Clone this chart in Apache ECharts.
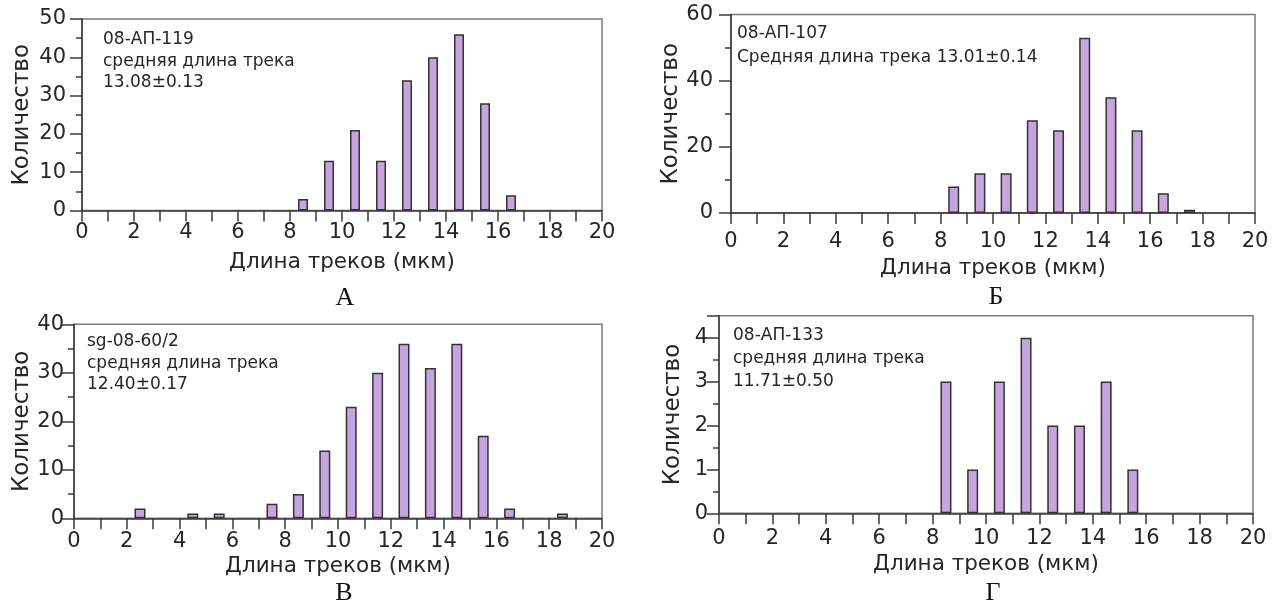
<!DOCTYPE html>
<html><head><meta charset="utf-8">
<script src="https://cdn.jsdelivr.net/npm/echarts@6/dist/echarts.min.js"></script>
<style>html,body{margin:0;padding:0;background:#fff}#c{width:1285px;height:609px}</style>
</head><body><div id="c"></div>
<script>
// ---- data ----
const xAxisName = 'Длина треков (мкм)';
const yAxisName = 'Количество';
const panelLetters = ['А', 'Б', 'В', 'Г'];

const samplesA = ['08-АП-119', 'средняя длина трека', '13.08±0.13'];
const binsA = [8.5, 9.5, 10.5, 11.5, 12.5, 13.5, 14.5, 15.5, 16.5];
const countsA = [3, 13, 21, 13, 34, 40, 46, 28, 4];

const samplesB = ['08-АП-107', 'Средняя длина трека 13.01±0.14'];
const binsB = [8.5, 9.5, 10.5, 11.5, 12.5, 13.5, 14.5, 15.5, 16.5, 17.5];
const countsB = [8, 12, 12, 28, 25, 53, 35, 25, 6, 1];

const samplesV = ['sg-08-60/2', 'средняя длина трека', '12.40±0.17'];
const binsV = [2.5, 4.5, 5.5, 7.5, 8.5, 9.5, 10.5, 11.5, 12.5, 13.5, 14.5, 15.5, 16.5, 18.5];
const countsV = [2, 1, 1, 3, 5, 14, 23, 30, 36, 31, 36, 17, 2, 1];

const samplesG = ['08-АП-133', 'средняя длина трека', '11.71±0.50'];
const binsG = [8.5, 9.5, 10.5, 11.5, 12.5, 13.5, 14.5, 15.5];
const countsG = [3, 1, 3, 4, 2, 2, 3, 1];

const yMax = [50, 60, 40, 4.5];
const yStep = [10, 20, 10, 1];

// ---- layout ----
const FONT = 'DejaVu Sans';
const TXT = '#262626';
const grids = [
  {left: 82, top: 19, width: 520, height: 191.5},
  {left: 731, top: 14.5, width: 524, height: 198.5},
  {left: 74, top: 324.3, width: 528, height: 194},
  {left: 719, top: 315.7, width: 534, height: 197.6}
];
const xLabelMargin = [12, 18, 13, 15];
const xNameGap = [41, 44, 37, 40];
const yLabelMargin = [16, 18, 10, 11];
const yNameGap = [48, 42, 38, 34];
const barW = [10, 11, 11, 11];
const annPos = [[103, 29], [737, 22], [87, 331], [733, 324]];
const annLH = [21.5, 23.5, 21.5, 23];
const letterPos = [[345, 298], [996, 297], [344, 593], [993, 593]];

const samples = [samplesA, samplesB, samplesV, samplesG];
const bins = [binsA, binsB, binsV, binsG];
const counts = [countsA, countsB, countsV, countsG];

const option = {
  backgroundColor: '#fff',
  animation: false,
  textStyle: {fontFamily: FONT},
  grid: grids.map(g => Object.assign({show: true, borderColor: '#7a7a7a', borderWidth: 1.5, backgroundColor: 'transparent'}, g)),
  title: [],
  xAxis: [],
  yAxis: [],
  series: [],
  graphic: []
};

for (let i = 0; i < 4; i++) {
  option.xAxis.push({
    gridIndex: i, type: 'value', min: 0, max: 20, interval: 1,
    name: xAxisName, nameLocation: 'middle', nameGap: xNameGap[i],
    nameTextStyle: {fontSize: 21.5, color: TXT, fontFamily: FONT},
    axisLine: {lineStyle: {color: '#3a3a3a', width: 1.5}},
    axisTick: {show: true, length: 11, lineStyle: {color: '#3a3a3a', width: 1.5}},
    axisLabel: {fontSize: 21, color: TXT, margin: xLabelMargin[i], fontFamily: FONT,
      formatter: v => (v % 2 === 0 ? String(v) : '')},
    splitLine: {show: false}
  });
  option.yAxis.push({
    gridIndex: i, type: 'value', min: 0, max: yMax[i], interval: yStep[i],
    name: yAxisName, nameLocation: 'middle', nameGap: yNameGap[i],
    nameTextStyle: {fontSize: 23, color: TXT, fontFamily: FONT},
    axisLine: {show: true, lineStyle: {color: '#3a3a3a', width: 1.5}},
    axisTick: {show: true, length: 12, lineStyle: {color: '#3a3a3a', width: 1.5}},
    minorTick: {show: true, splitNumber: 2, length: 6, lineStyle: {color: '#3a3a3a', width: 1.5}},
    axisLabel: {fontSize: 21, color: TXT, margin: yLabelMargin[i], fontFamily: FONT,
      formatter: v => (Number.isInteger(v) ? String(v) : '')},
    splitLine: {show: false}, minorSplitLine: {show: false}
  });
  option.series.push({
    type: 'bar', xAxisIndex: i, yAxisIndex: i, barWidth: barW[i],
    data: bins[i].map((b, k) => [b, counts[i][k]]),
    itemStyle: {color: '#c6a4dd', borderColor: '#333', borderWidth: 1.5},
    silent: true
  });
  option.title.push({
    text: samples[i].join('\n'), left: annPos[i][0], top: annPos[i][1], padding: 0,
    textStyle: {fontSize: 17, fontWeight: 'normal', color: TXT, lineHeight: annLH[i], fontFamily: FONT}
  });
  option.graphic.push({
    type: 'text', x: letterPos[i][0], y: letterPos[i][1],
    style: {text: panelLetters[i], font: '26px "Liberation Serif"', fill: '#111', align: 'center', verticalAlign: 'middle'}
  });
}

const chart = echarts.init(document.getElementById('c'), null, {renderer: 'canvas'});
chart.setOption(option);
</script>
</body></html>
